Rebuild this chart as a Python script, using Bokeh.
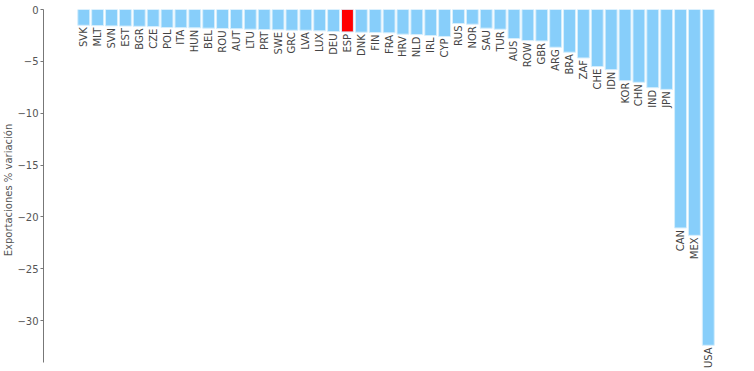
import math
from bokeh.plotting import figure
from bokeh.models import ColumnDataSource, FixedTicker, Range1d, LabelSet
from bokeh.core.properties import value
from bokeh.embed import file_html
from bokeh.resources import INLINE

countries = ["SVK", "MLT", "SVN", "EST", "BGR", "CZE", "POL", "ITA", "HUN", "BEL",
             "ROU", "AUT", "LTU", "PRT", "SWE", "GRC", "LVA", "LUX", "DEU", "ESP",
             "DNK", "FIN", "FRA", "HRV", "NLD", "IRL", "CYP", "RUS", "NOR", "SAU",
             "TUR", "AUS", "ROW", "GBR", "ARG", "BRA", "ZAF", "CHE", "IDN", "KOR",
             "CHN", "IND", "JPN", "CAN", "MEX", "USA"]
exports_change = [-1.52, -1.55, -1.58, -1.60, -1.62, -1.65, -1.74, -1.75, -1.77, -1.80,
                  -1.83, -1.85, -1.90, -1.93, -1.96, -2.00, -2.00, -2.06, -2.12, -2.16,
                  -2.19, -2.22, -2.25, -2.38, -2.42, -2.51, -2.60, -1.35, -1.42, -1.80,
                  -1.90, -2.80, -3.00, -3.03, -3.64, -4.12, -4.67, -5.50, -5.80, -6.86,
                  -7.02, -7.54, -7.70, -21.06, -21.77, -32.37]
highlight = "ESP"
y_ticks = [0, -5, -10, -15, -20, -25, -30]

colors = ["#ff0000" if c == highlight else "#87cefa" for c in countries]
xs = list(range(len(countries)))
src = ColumnDataSource(dict(x=xs, top=[0] * len(countries), bottom=exports_change,
                            color=colors, label=countries))

p = figure(width=738, height=371, output_backend="svg", toolbar_location=None,
           x_range=Range1d(-2.9, 46.6), y_range=Range1d(-34.8, 0.0),
           min_border_top=9, min_border_bottom=1, min_border_left=43, min_border_right=8)
p.vbar(x="x", top="top", bottom="bottom", width=0.86, fill_color="color",
       line_color="#d6eefc", line_width=1, source=src)
labels = LabelSet(x="x", y="bottom", text="label", source=src, angle=math.pi / 2,
                  text_align="right", text_baseline="middle", y_offset=-2,
                  text_font=value("DejaVu Sans"), text_font_size=value("10px"),
                  text_color=value("#444444"))
p.add_layout(labels)

p.xaxis.visible = False
p.xgrid.visible = False
p.ygrid.visible = False
p.outline_line_color = None

ax = p.yaxis[0]
ax.ticker = FixedTicker(ticks=y_ticks)
ax.bounds = (-34.0, 0.0)
ax.axis_label = "Exportaciones % variación"
ax.axis_label_text_font = "DejaVu Sans"
ax.axis_label_text_font_style = "normal"
ax.axis_label_text_font_size = "10px"
ax.axis_label_text_color = "#555555"
ax.axis_label_standoff = 0
ax.major_label_text_font = "DejaVu Sans"
ax.major_label_text_font_size = "10px"
ax.major_label_text_color = "#555555"
ax.major_label_standoff = 2
ax.axis_line_color = "#777777"
ax.major_tick_line_color = "#777777"
ax.major_tick_out = 3
ax.major_tick_in = 0
ax.minor_tick_line_color = None

open("out.html", "w").write(file_html(p, INLINE))
